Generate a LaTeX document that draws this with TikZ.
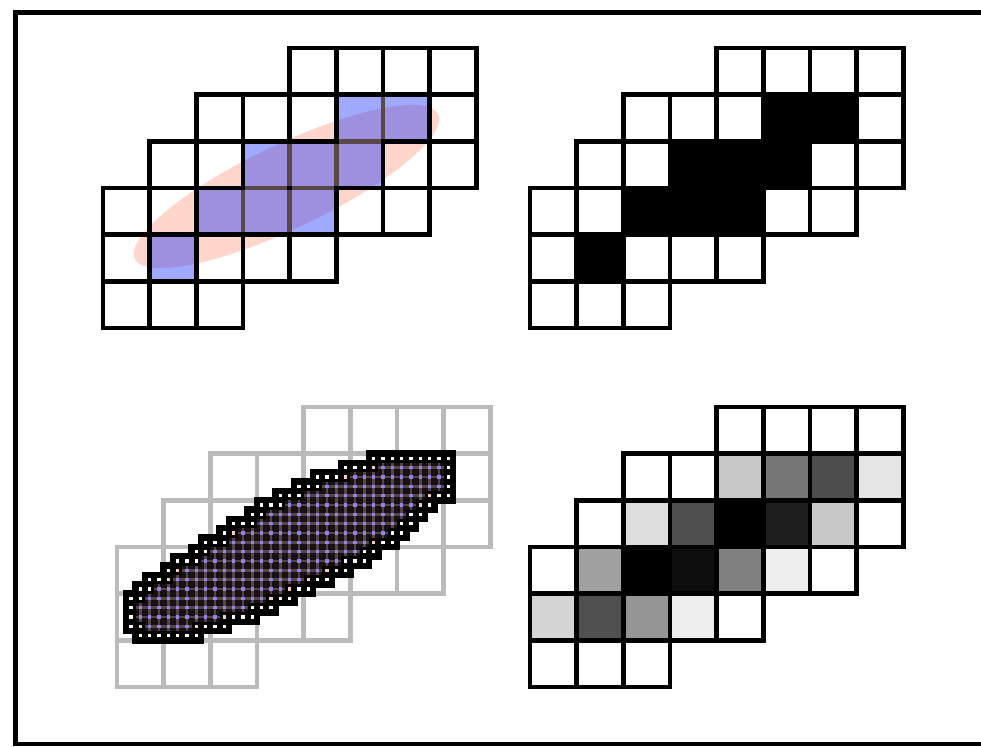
\documentclass[tikz,border=0pt]{standalone}
\definecolor{pinkc}{RGB}{255,213,204}
\definecolor{bluec}{RGB}{0,30,255}
\definecolor{gridgray}{RGB}{187,187,187}
\definecolor{brownline}{RGB}{88,72,72}
\definecolor{darkin}{RGB}{24,17,19}
\definecolor{plaidline}{RGB}{86,68,70}
\definecolor{purpledot}{RGB}{143,134,230}
\definecolor{pinkdot}{RGB}{255,200,190}
\tikzset{
  cellline/.style={draw=black, line width=4.9pt},
  graycell/.style={draw=gridgray, line width=4.5pt},
  sharededge/.style={draw=brownline, line width=4.9pt, shorten >=2.4pt, shorten <=2.4pt},
  frameline/.style={draw=black, line width=4.2pt},
}
% grid of cells: #1 = left x, #2 = top y, #3 = style
\newcommand\gridcells[3]{%
  \foreach \r/\a/\b in {0/4/7,1/2/7,2/1/7,3/0/6,4/0/4,5/0/2}{%
    \foreach \c in {\a,...,\b}{%
      \draw[#3] ({#1+46.667*\c},{#2+46.667*\r}) rectangle ({#1+46.667*(\c+1)},{#2+46.667*(\r+1)});
    }}}
% one filled cell: #1 left x, #2 top y, #3 col, #4 row, #5 style
\newcommand\cellfill[5]{%
  \fill[#5] ({#1+46.667*#3},{#2+46.667*#4}) rectangle ({#1+46.667*(#3+1)},{#2+46.667*(#4+1)});}
% sample dot of the fine grid: #1 m, #2 n, #3 colour
\newcommand\sdot[3]{%
  \fill[#3] ({120.07+9.3333*#1},{410.07+9.3333*#2}) rectangle ({123.27+9.3333*#1},{413.27+9.3333*#2});}
\begin{document}
\begin{tikzpicture}[x=1pt,y=-1pt]
\useasboundingbox (0,0) rectangle (981,746);
\clip (0,0) rectangle (981,746);
\fill[white] (0,0) rectangle (981,746);

% ---------- top left: ellipse and covered cells ----------
\fill[pinkc, rotate around={25.5:(286.5,186.5)}] (286.5,186.5) ellipse [x radius=168, y radius=42];
\foreach \c/\r in {5/1,6/1,3/2,4/2,5/2,2/3,3/3,4/3,1/4}{%
  \cellfill{103}{48}{\c}{\r}{bluec, opacity=0.38}}
\gridcells{103}{48}{cellline}
\draw[sharededge] ({103+46.667*6},{48+46.667*1}) -- ({103+46.667*6},{48+46.667*2});
\draw[sharededge] ({103+46.667*4},{48+46.667*2}) -- ({103+46.667*4},{48+46.667*3});
\draw[sharededge] ({103+46.667*5},{48+46.667*2}) -- ({103+46.667*5},{48+46.667*3});
\draw[sharededge] ({103+46.667*3},{48+46.667*3}) -- ({103+46.667*3},{48+46.667*4});
\draw[sharededge] ({103+46.667*4},{48+46.667*3}) -- ({103+46.667*4},{48+46.667*4});
\draw[sharededge] ({103+46.667*5},{48+46.667*2}) -- ({103+46.667*6},{48+46.667*2});
\draw[sharededge] ({103+46.667*3},{48+46.667*3}) -- ({103+46.667*4},{48+46.667*3});
\draw[sharededge] ({103+46.667*4},{48+46.667*3}) -- ({103+46.667*5},{48+46.667*3});

% ---------- top right: binary cells ----------
\foreach \c/\r in {5/1,6/1,3/2,4/2,5/2,2/3,3/3,4/3,1/4}{%
  \cellfill{530}{48}{\c}{\r}{black}}
\gridcells{530}{48}{cellline}

% ---------- bottom right: coverage grey levels ----------
\foreach \c/\r/\p in {4/1/21.6,5/1/53.3,6/1/69.8,7/1/9.8,
                      2/2/13.3,3/2/69,4/2/100,5/2/88.2,6/2/21.6,
                      1/3/37.3,2/3/100,3/3/94.5,4/3/49.8,5/3/6.7,
                      0/4/16.9,1/4/68.6,2/4/41.6,3/4/6.7}{%
  \cellfill{530}{407}{\c}{\r}{black!\p}}
\gridcells{530}{407}{cellline}

% ---------- bottom left: grey grid and supersampled shape ----------
\gridcells{117}{407}{graycell}
\def\rows{5/27/35/99/-1, 6/24/35/28/34, 7/21/35/25/34, 8/19/35/22/34,
  9/17/35/20/32, 10/15/33/18/31, 11/14/32/16/30, 12/12/31/15/29,
  13/11/30/13/28, 14/9/29/12/26, 15/8/27/10/25, 16/6/26/9/23,
  17/5/24/7/21, 18/3/22/6/19, 19/2/20/4/17, 20/1/18/3/15,
  21/1/16/2/13, 22/1/14/2/10, 23/1/11/3/7, 24/2/8/99/-1}
\foreach \n/\rl/\rr/\lo/\hi in \rows{%
  \fill[black] ({117+9.3333*\rl-3.2},{407+9.3333*\n-3.2}) rectangle ({117+9.3333*(\rr+1)+3.2},{407+9.3333*(\n+1)+3.2});
}
\foreach \n/\rl/\rr/\lo/\hi in \rows{%
  \ifnum\lo<99
    \fill[darkin] ({117+9.3333*\lo},{407+9.3333*\n}) rectangle ({117+9.3333*(\hi+1)},{407+9.3333*(\n+1)});
    \draw[plaidline, line width=2.8pt] ({117+9.3333*\lo},{411.667+9.3333*\n}) -- ({117+9.3333*(\hi+1)},{411.667+9.3333*\n});
    \foreach \m in {\lo,...,\hi}{%
      \draw[plaidline, line width=2.8pt] ({121.667+9.3333*\m},{407+9.3333*\n}) -- ({121.667+9.3333*\m},{407+9.3333*(\n+1)});
      \sdot{\m}{\n}{purpledot}}
  \fi
  \foreach \m in {\rl,...,\rr}{%
    \ifnum\m<\lo \sdot{\m}{\n}{white}\else\ifnum\m>\hi \sdot{\m}{\n}{white}\fi\fi}
}
\foreach \m/\n in {27/6,24/7,12/13,6/17,5/18,2/23,33/9,32/10,27/14,22/17,20/18,18/19,16/20,11/22,8/23}{%
  \sdot{\m}{\n}{pinkdot}}

% ---------- frame ----------
\draw[frameline] (15.5,12.5) rectangle (1000,744);
\end{tikzpicture}
\end{document}
